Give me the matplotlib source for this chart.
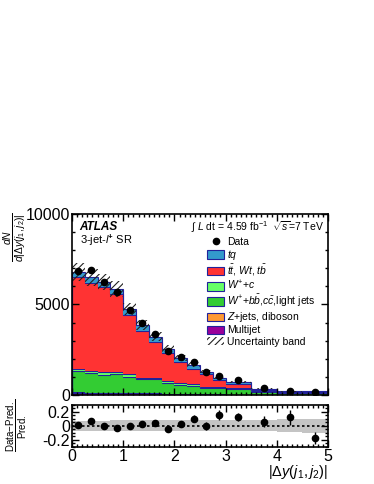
import numpy as np
import matplotlib
matplotlib.use("Agg")
import matplotlib.pyplot as plt
from matplotlib.patches import Patch
from matplotlib.lines import Line2D
from matplotlib.ticker import MultipleLocator

plt.rcParams['font.family'] = ['Liberation Sans', 'DejaVu Sans']
plt.rcParams['mathtext.fontset'] = 'custom'
plt.rcParams['mathtext.rm'] = 'Liberation Sans'
plt.rcParams['mathtext.it'] = 'Liberation Sans:italic'
plt.rcParams['mathtext.bf'] = 'Liberation Sans:bold'
plt.rcParams['hatch.linewidth'] = 0.8

# bin edges in |dy(j1,j2)|
edges = [0, 0.25, 0.5, 0.75, 1.0, 1.25, 1.5, 1.75, 2.0, 2.25, 2.5, 2.75, 3.0, 3.5, 4.0, 4.5, 5.0]

# stacked predictions (dN/d|dy|), bottom to top
multijet = [110, 100, 100, 90, 90, 80, 70, 60, 50, 45, 40, 30, 10, 8, 6, 6]
zjets = [30, 30, 25, 25, 25, 20, 20, 15, 15, 12, 10, 10, 8, 5, 4, 4]
wbb = [1190, 1070, 980, 1045, 895, 770, 780, 575, 485, 443, 350, 320, 332, 167, 90, 80]
wc = [110, 145, 145, 130, 150, 90, 90, 125, 100, 90, 60, 60, 50, 50, 30, 30]
ttbar = [5050, 4855, 4700, 4280, 3260, 2600, 1980, 1555, 1170, 870, 670, 380, 225, 60, 26, 57]
tq = [300, 290, 280, 290, 330, 310, 280, 230, 210, 200, 160, 130, 110, 60, 40, 40]

data = [6860, 6910, 6230, 5680, 4700, 3950, 3350, 2430, 2070, 1830, 1290, 1070, 830, 370, 220, 180]
rel_unc = [0.07, 0.07, 0.07, 0.075, 0.075, 0.075, 0.075, 0.075, 0.08, 0.08, 0.08, 0.08, 0.08, 0.08, 0.09, 0.1]

components = [
    (multijet, '#990099', 'Multijet'),
    (zjets, '#ff9933', r'$Z$+jets, diboson'),
    (wbb, '#33cc33', r'$W^{+}$+$b\bar{b}$,$c\bar{c}$,light jets'),
    (wc, '#66ff66', r'$W^{+}$+$c$'),
    (ttbar, '#ff3333', r'$t\bar{t}$, $Wt$, $t\bar{b}$'),
    (tq, '#3399cc', r'$tq$'),
]

edges = np.array(edges)
centers = 0.5 * (edges[1:] + edges[:-1])
widths = np.diff(edges)
data = np.array(data, dtype=float)
rel_unc = np.array(rel_unc)

fig = plt.figure(figsize=(3.74, 4.84), dpi=100)
ax = fig.add_axes([0.1925, 0.184, 0.6845, 0.374])
rax = fig.add_axes([0.1925, 0.077, 0.6845, 0.0868])

edge_col = '#22229a'
bottom = np.zeros(len(centers))
for vals, col, lab in components:
    vals = np.array(vals, dtype=float)
    ax.stairs(bottom + vals, edges, baseline=bottom, fill=True, color=col, lw=0)
    bottom = bottom + vals
    ax.stairs(bottom, edges, color=edge_col, lw=0.8)
total = bottom

# uncertainty band
ax.stairs(total * (1 + rel_unc), edges, baseline=total * (1 - rel_unc), fill=True,
          facecolor='none', edgecolor='#222222', hatch='/////', lw=0)

# data (stat errors from event counts)
counts = data * widths
err = np.sqrt(counts) / widths
ax.errorbar(centers, data, yerr=err, fmt='o', color='black', ms=4.5, elinewidth=1, capsize=0)

ax.set_xlim(0, 5)
ax.set_ylim(0, 10000)
ax.set_yticks([0, 5000, 10000])
ax.yaxis.set_minor_locator(MultipleLocator(1000))
ax.xaxis.set_major_locator(MultipleLocator(1))
ax.xaxis.set_minor_locator(MultipleLocator(0.1))
ax.set_xticklabels([])

# ratio panel
ratio = data / total - 1
ratio_err = err / total
rax.stairs(rel_unc, edges, baseline=-rel_unc, fill=True, color='#c4c4c4', lw=0)
rax.axhline(0, color='black', ls=(0, (1.5, 1.5)), lw=1.2)
rax.errorbar(centers, ratio, yerr=ratio_err, fmt='o', color='black', ms=4.5, elinewidth=1, capsize=0)
rax.set_xlim(0, 5)
rax.set_ylim(-0.3, 0.3)
rax.set_yticks([-0.2, 0, 0.2])
rax.set_yticklabels(['-0.2', '0', '0.2'])
rax.yaxis.set_minor_locator(MultipleLocator(0.05))
rax.xaxis.set_major_locator(MultipleLocator(1))
rax.xaxis.set_minor_locator(MultipleLocator(0.1))

for a in (ax, rax):
    a.tick_params(which='both', direction='in', top=True, right=True, labelsize=11.5, pad=1.5)
    a.tick_params(which='major', length=5, width=1)
    a.tick_params(which='minor', length=2.5, width=1)
    for s in a.spines.values():
        s.set_linewidth(1.2)

# texts
ax.text(0.03, 0.93, 'ATLAS', transform=ax.transAxes, fontsize=8.5, fontweight='bold',
        fontstyle='italic', va='center')
ax.text(0.03, 0.855, r'3-jet-$\mathbf{\mathit{l}}^{\mathbf{+}}$ SR', transform=ax.transAxes,
        fontsize=8, va='center')
ax.text(0.985, 0.925, r'$\int$ $L$ dt = 4.59 fb$^{-1}$  $\sqrt{s}$=7 TeV', transform=ax.transAxes,
        fontsize=7.5, ha='right', va='center')

handles = [Line2D([0], [0], marker='o', color='black', ls='none', ms=4.5)]
labels = ['Data']
for vals, col, lab in components[::-1]:
    handles.append(Patch(facecolor=col, edgecolor=edge_col, lw=0.8))
    labels.append(lab)
handles.append(Patch(facecolor='white', edgecolor='#222222', hatch='/////', lw=0))
labels.append('Uncertainty band')
ax.legend(handles, labels, loc='upper left', bbox_to_anchor=(0.52, 0.885), frameon=False,
          fontsize=7.5, handlelength=1.6, handleheight=0.9, handletextpad=0.3,
          labelspacing=0.1, borderpad=0.2, borderaxespad=0)

fig.text(0.04, 0.51, r'$\frac{dN}{d|\Delta y(j_1,j_2)|}$', rotation=90, fontsize=10.5,
         ha='center', va='center')
fig.text(0.045, 0.122, r'$\frac{\mathrm{Data\!-\!Pred.}}{\mathrm{Pred.}}$', rotation=90,
         fontsize=10, ha='center', va='center')
fig.text(0.877, 0.025, r'$|\Delta y(j_1,j_2)|$', fontsize=10.5, ha='right', va='center')

fig.savefig('out.png', dpi=100)
